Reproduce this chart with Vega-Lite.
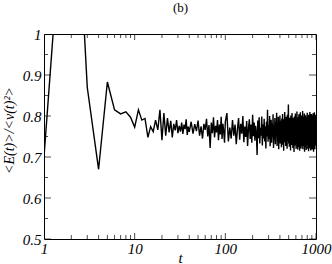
{
"$schema":"https://vega.github.io/schema/vega-lite/v6.json",
"width":272,"height":205,
"autosize":{"type":"none"},
"padding":{"left":44,"top":34,"right":16,"bottom":25},
"config":{"view":{"stroke":"black","strokeWidth":1},"axis":{"domain":false,"labelColor":"black","titleColor":"black","labelFont":"Liberation Serif","labelFontStyle":"italic","labelFontSize":15,"titleFont":"Liberation Serif","titleFontStyle":"italic","titleFontWeight":"normal","titleFontSize":15,"grid":false,"labelOverlap":false,"labelFlush":false,"minExtent":0}},
"datasets":{
"xmaj":[{"tx":1},{"tx":10},{"tx":100},{"tx":1000}],
"xmin":[{"tx":2},{"tx":3},{"tx":4},{"tx":5},{"tx":6},{"tx":7},{"tx":8},{"tx":9},{"tx":20},{"tx":30},{"tx":40},{"tx":50},{"tx":60},{"tx":70},{"tx":80},{"tx":90},{"tx":200},{"tx":300},{"tx":400},{"tx":500},{"tx":600},{"tx":700},{"tx":800},{"tx":900}],
"ymaj":[{"ty":0.5},{"ty":0.6},{"ty":0.7},{"ty":0.8},{"ty":0.9},{"ty":1}],
"ymin":[{"ty":0.55},{"ty":0.65},{"ty":0.75},{"ty":0.85},{"ty":0.95}]
},
"data":{"values":[
{"t":1,"v":0.70},{"t":2,"v":1.6},{"t":3,"v":0.87},{"t":4,"v":0.67},{"t":5,"v":0.883},{"t":6,"v":0.815},{"t":7,"v":0.805},{"t":8,"v":0.81},{"t":9,"v":0.797},{"t":10,"v":0.773},
{"t":11,"v":0.815},{"t":12,"v":0.79},{"t":13,"v":0.794},{"t":14,"v":0.748},{"t":15,"v":0.774},{"t":16,"v":0.762},{"t":17,"v":0.79},{"t":18,"v":0.766},{"t":19,"v":0.815},{"t":20,"v":0.741},
{"t":21,"v":0.807},{"t":22,"v":0.752},{"t":23,"v":0.795},{"t":24,"v":0.76},{"t":25,"v":0.788},{"t":26,"v":0.748},{"t":27,"v":0.781},{"t":28,"v":0.765},{"t":29,"v":0.79},{"t":30,"v":0.758},
{"t":31,"v":0.776},{"t":32,"v":0.762},{"t":33,"v":0.784},{"t":34,"v":0.756},{"t":35,"v":0.779},{"t":36,"v":0.768},{"t":37,"v":0.792},{"t":38,"v":0.754},{"t":39,"v":0.774},{"t":40,"v":0.761},
{"t":42,"v":0.786},{"t":44,"v":0.757},{"t":46,"v":0.78},{"t":48,"v":0.763},{"t":50,"v":0.789},{"t":52,"v":0.752},{"t":54,"v":0.775},{"t":56,"v":0.745},{"t":58,"v":0.781},{"t":60,"v":0.766},
{"t":62,"v":0.793},{"t":64,"v":0.75},{"t":66,"v":0.778},{"t":68,"v":0.722},{"t":70,"v":0.784},{"t":72,"v":0.758},{"t":74,"v":0.797},{"t":76,"v":0.748},{"t":78,"v":0.776},{"t":80,"v":0.76},
{"t":82,"v":0.79},{"t":84,"v":0.741},{"t":86,"v":0.779},{"t":88,"v":0.755},{"t":90,"v":0.798},{"t":92,"v":0.744},{"t":94,"v":0.781},{"t":96,"v":0.762},{"t":98,"v":0.735},{"t":100,"v":0.786},
{"t":104,"v":0.807},{"t":108,"v":0.738},{"t":112,"v":0.772},{"t":116,"v":0.745},{"t":120,"v":0.79},{"t":124,"v":0.752},{"t":128,"v":0.779},{"t":132,"v":0.731},{"t":136,"v":0.768},{"t":140,"v":0.795},
{"t":144,"v":0.742},{"t":148,"v":0.781},{"t":152,"v":0.757},{"t":156,"v":0.8},{"t":160,"v":0.736},{"t":164,"v":0.774},{"t":168,"v":0.749},{"t":172,"v":0.788},{"t":176,"v":0.727},{"t":180,"v":0.77},
{"t":184,"v":0.792},{"t":188,"v":0.744},{"t":192,"v":0.779},{"t":196,"v":0.735},{"t":200,"v":0.803},{"t":204,"v":0.751},{"t":208,"v":0.784},{"t":212,"v":0.74},{"t":216,"v":0.776},{"t":220,"v":0.758},
{"t":224,"v":0.705},{"t":228,"v":0.789},{"t":232,"v":0.746},{"t":236,"v":0.797},{"t":240,"v":0.733},{"t":244,"v":0.771},{"t":248,"v":0.752},{"t":252,"v":0.799},{"t":256,"v":0.728},{"t":260,"v":0.78},
{"t":264,"v":0.745},{"t":268,"v":0.793},{"t":272,"v":0.738},{"t":276,"v":0.775},{"t":280,"v":0.721},{"t":284,"v":0.786},{"t":288,"v":0.75},{"t":292,"v":0.815},{"t":296,"v":0.737},{"t":300,"v":0.778},
{"t":304,"v":0.744},{"t":308,"v":0.8},{"t":312,"v":0.726},{"t":316,"v":0.769},{"t":320,"v":0.791},{"t":324,"v":0.735},{"t":328,"v":0.782},{"t":332,"v":0.748},{"t":336,"v":0.804},{"t":340,"v":0.722},
{"t":344,"v":0.776},{"t":348,"v":0.743},{"t":352,"v":0.795},{"t":356,"v":0.731},{"t":360,"v":0.785},{"t":364,"v":0.752},{"t":368,"v":0.808},{"t":372,"v":0.727},{"t":376,"v":0.773},{"t":380,"v":0.74},
{"t":384,"v":0.798},{"t":388,"v":0.719},{"t":392,"v":0.781},{"t":396,"v":0.746},{"t":400,"v":0.801},{"t":404,"v":0.733},{"t":408,"v":0.789},{"t":412,"v":0.756},{"t":416,"v":0.724},{"t":420,"v":0.794},
{"t":424,"v":0.741},{"t":428,"v":0.805},{"t":432,"v":0.73},{"t":436,"v":0.776},{"t":440,"v":0.715},{"t":444,"v":0.792},{"t":448,"v":0.749},{"t":452,"v":0.81},{"t":456,"v":0.736},{"t":460,"v":0.781},
{"t":464,"v":0.727},{"t":468,"v":0.798},{"t":472,"v":0.745},{"t":476,"v":0.786},{"t":480,"v":0.72},{"t":484,"v":0.803},{"t":488,"v":0.739},{"t":492,"v":0.779},{"t":496,"v":0.828},{"t":500,"v":0.733},
{"t":504,"v":0.788},{"t":508,"v":0.725},{"t":512,"v":0.796},{"t":516,"v":0.742},{"t":520,"v":0.775},{"t":524,"v":0.716},{"t":528,"v":0.801},{"t":532,"v":0.748},{"t":536,"v":0.785},{"t":540,"v":0.729},
{"t":544,"v":0.807},{"t":548,"v":0.738},{"t":552,"v":0.779},{"t":556,"v":0.722},{"t":560,"v":0.795},{"t":564,"v":0.751},{"t":568,"v":0.784},{"t":572,"v":0.712},{"t":576,"v":0.799},{"t":580,"v":0.737},
{"t":584,"v":0.774},{"t":588,"v":0.728},{"t":592,"v":0.806},{"t":596,"v":0.744},{"t":600,"v":0.79},{"t":604,"v":0.72},{"t":608,"v":0.782},{"t":612,"v":0.735},{"t":616,"v":0.811},{"t":620,"v":0.741},
{"t":624,"v":0.777},{"t":628,"v":0.718},{"t":632,"v":0.797},{"t":636,"v":0.746},{"t":640,"v":0.787},{"t":644,"v":0.724},{"t":648,"v":0.804},{"t":652,"v":0.739},{"t":656,"v":0.78},{"t":660,"v":0.715},
{"t":664,"v":0.793},{"t":668,"v":0.748},{"t":672,"v":0.809},{"t":676,"v":0.731},{"t":680,"v":0.775},{"t":684,"v":0.721},{"t":688,"v":0.801},{"t":692,"v":0.743},{"t":696,"v":0.788},{"t":700,"v":0.727},
{"t":704,"v":0.796},{"t":708,"v":0.736},{"t":712,"v":0.812},{"t":716,"v":0.719},{"t":720,"v":0.783},{"t":724,"v":0.745},{"t":728,"v":0.799},{"t":732,"v":0.726},{"t":736,"v":0.778},{"t":740,"v":0.738},
{"t":744,"v":0.806},{"t":748,"v":0.713},{"t":752,"v":0.791},{"t":756,"v":0.749},{"t":760,"v":0.785},{"t":764,"v":0.723},{"t":768,"v":0.802},{"t":772,"v":0.734},{"t":776,"v":0.789},{"t":780,"v":0.717},
{"t":784,"v":0.797},{"t":788,"v":0.742},{"t":792,"v":0.78},{"t":796,"v":0.729},{"t":800,"v":0.808},{"t":804,"v":0.737},{"t":808,"v":0.786},{"t":812,"v":0.72},{"t":816,"v":0.799},{"t":820,"v":0.746},
{"t":824,"v":0.775},{"t":828,"v":0.714},{"t":832,"v":0.803},{"t":836,"v":0.733},{"t":840,"v":0.792},{"t":844,"v":0.725},{"t":848,"v":0.787},{"t":852,"v":0.74},{"t":856,"v":0.81},{"t":860,"v":0.721},
{"t":864,"v":0.782},{"t":868,"v":0.747},{"t":872,"v":0.798},{"t":876,"v":0.716},{"t":880,"v":0.789},{"t":884,"v":0.735},{"t":888,"v":0.805},{"t":892,"v":0.727},{"t":896,"v":0.779},{"t":900,"v":0.743},
{"t":904,"v":0.801},{"t":908,"v":0.718},{"t":912,"v":0.794},{"t":916,"v":0.731},{"t":920,"v":0.784},{"t":924,"v":0.722},{"t":928,"v":0.807},{"t":932,"v":0.739},{"t":936,"v":0.788},{"t":940,"v":0.713},
{"t":944,"v":0.797},{"t":948,"v":0.744},{"t":952,"v":0.781},{"t":956,"v":0.724},{"t":960,"v":0.809},{"t":964,"v":0.736},{"t":968,"v":0.79},{"t":972,"v":0.719},{"t":976,"v":0.8},{"t":980,"v":0.741},
{"t":984,"v":0.786},{"t":988,"v":0.728},{"t":992,"v":0.803},{"t":996,"v":0.745},{"t":1000,"v":0.772}
]},
"layer":[
{"mark":{"type":"line","color":"black","strokeWidth":1.4,"clip":true},
 "encoding":{
  "x":{"field":"t","type":"quantitative","scale":{"type":"log","domain":[1,1000]},
   "axis":{"orient":"bottom","title":"t","titlePadding":-6,"values":[1,10,100,1000],"labelExpr":"datum.value","ticks":false,"labelPadding":2}},
  "y":{"field":"v","type":"quantitative","scale":{"domain":[0.5,1]},
   "axis":{"orient":"left","title":"<E(t)>/<v(t)²>","titleFontSize":14,"titlePadding":6,"titleY":96,"values":[0.5,0.6,0.7,0.8,0.9,1],"ticks":false,
    "labelExpr":"format(datum.value,'~g')","labelPadding":3}}}},
{"data":{"name":"xmaj"},"mark":{"type":"tick","orient":"vertical","size":12,"thickness":1,"color":"black","clip":true},
 "encoding":{"x":{"field":"tx","type":"quantitative","axis":{"orient":"top","title":"(b)","titleFontStyle":"normal","titleFontSize":13,"titlePadding":20,"labels":false,"ticks":false}},"y":{"datum":0.5,"axis":null}}},
{"data":{"name":"xmaj"},"mark":{"type":"tick","orient":"vertical","size":12,"thickness":1,"color":"black","clip":true},
 "encoding":{"x":{"field":"tx","type":"quantitative","axis":null},"y":{"datum":1,"axis":null}}},
{"data":{"name":"xmin"},"mark":{"type":"tick","orient":"vertical","size":8,"thickness":1,"color":"black","clip":true},
 "encoding":{"x":{"field":"tx","type":"quantitative","axis":null},"y":{"datum":0.5,"axis":null}}},
{"data":{"name":"xmin"},"mark":{"type":"tick","orient":"vertical","size":8,"thickness":1,"color":"black","clip":true},
 "encoding":{"x":{"field":"tx","type":"quantitative","axis":null},"y":{"datum":1,"axis":null}}},
{"data":{"name":"ymaj"},"mark":{"type":"tick","orient":"horizontal","size":14,"thickness":1,"color":"black","clip":true},
 "encoding":{"y":{"field":"ty","type":"quantitative","axis":null},"x":{"datum":1,"axis":null}}},
{"data":{"name":"ymaj"},"mark":{"type":"tick","orient":"horizontal","size":14,"thickness":1,"color":"black","clip":true},
 "encoding":{"y":{"field":"ty","type":"quantitative","axis":null},"x":{"datum":1000,"axis":null}}},
{"data":{"name":"ymin"},"mark":{"type":"tick","orient":"horizontal","size":8,"thickness":1,"color":"black","clip":true},
 "encoding":{"y":{"field":"ty","type":"quantitative","axis":null},"x":{"datum":1,"axis":null}}},
{"data":{"name":"ymin"},"mark":{"type":"tick","orient":"horizontal","size":8,"thickness":1,"color":"black","clip":true},
 "encoding":{"y":{"field":"ty","type":"quantitative","axis":null},"x":{"datum":1000,"axis":null}}}
],
"resolve":{"axis":{"x":"independent","y":"independent"}}
}
